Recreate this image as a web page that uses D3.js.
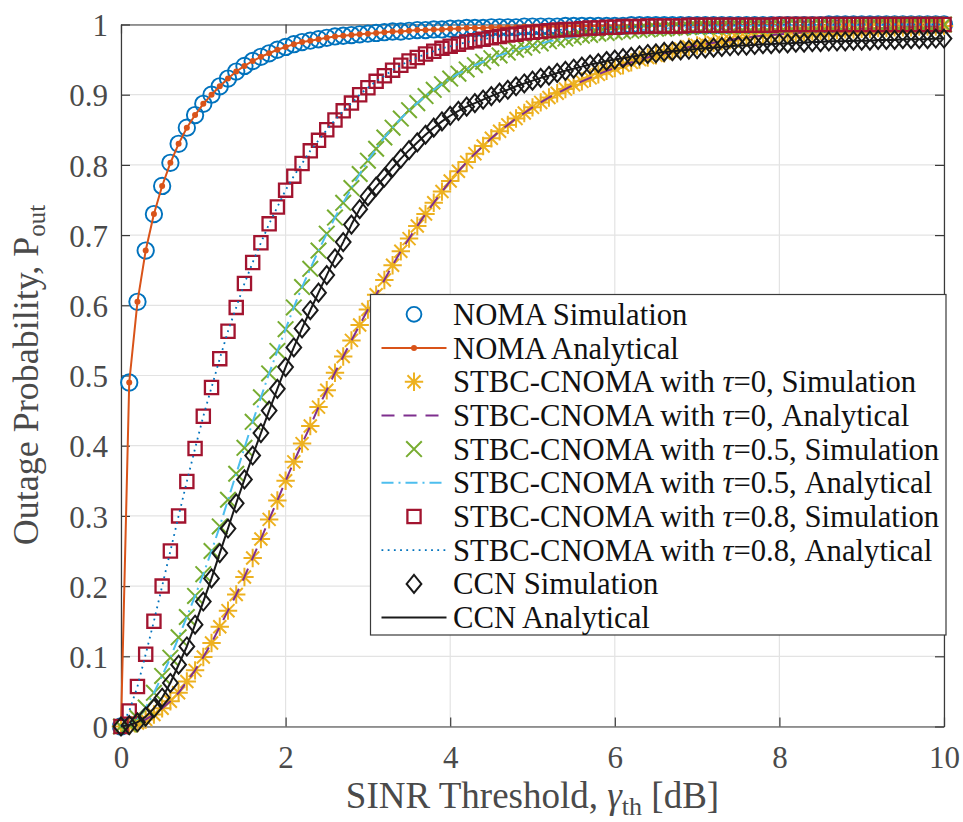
<!DOCTYPE html>
<html lang="en">
<head>
<meta charset="utf-8">
<title>Outage probability vs SINR threshold</title>
<script src="https://cdn.jsdelivr.net/npm/d3@7/dist/d3.min.js"></script>
<style>
  body { margin: 0; background: #fff; }
  svg { display: block; }
  text { font-family: "Liberation Serif", Tinos, "Times New Roman", Times, "Nimbus Roman", "DejaVu Serif"; }
</style>
</head>
<body>
<script>
// SINR threshold grid in dB (0 .. 10, step 0.1)
var sinrDb = d3.range(0, 101).map(function(i) { return i / 10; });

// outage probability values
var nomaOut = [
  0, 0.490, 0.605, 0.678, 0.730, 0.770, 0.803, 0.830, 0.853, 0.871,
  0.887, 0.900, 0.912, 0.923, 0.933, 0.941, 0.948, 0.954, 0.959, 0.964,
  0.968, 0.972, 0.975, 0.977, 0.979, 0.981, 0.983, 0.984, 0.985, 0.986,
  0.987, 0.988, 0.989, 0.990, 0.990, 0.991, 0.992, 0.992, 0.993, 0.993,
  0.994, 0.994, 0.995, 0.995, 0.995, 0.996, 0.996, 0.996, 0.996, 0.997,
  0.997, 0.997, 0.997, 0.997, 0.998, 0.998, 0.998, 0.998, 0.998, 0.998,
  0.998, 0.998, 0.999, 0.999, 0.999, 0.999, 0.999, 0.999, 0.999, 0.999,
  0.999, 0.999, 0.999, 0.999, 0.999, 0.999, 0.999, 0.999, 0.999, 0.999,
  0.999, 0.999, 0.999, 0.999, 0.999, 0.999, 1.000, 1.000, 1.000, 1.000,
  1.000, 1.000, 1.000, 1.000, 1.000, 1.000, 1.000, 1.000, 1.000, 1.000,
  1.000
];
var tau0Out = [
  0, 0.001, 0.005, 0.010, 0.017, 0.026, 0.036, 0.048, 0.064, 0.080,
  0.099, 0.119, 0.142, 0.165, 0.188, 0.213, 0.240, 0.267, 0.295, 0.322,
  0.350, 0.377, 0.403, 0.428, 0.455, 0.479, 0.504, 0.527, 0.550, 0.572,
  0.594, 0.615, 0.636, 0.657, 0.677, 0.695, 0.713, 0.730, 0.746, 0.762,
  0.777, 0.791, 0.804, 0.816, 0.827, 0.838, 0.848, 0.857, 0.866, 0.874,
  0.882, 0.889, 0.896, 0.902, 0.908, 0.914, 0.919, 0.924, 0.929, 0.934,
  0.938, 0.942, 0.946, 0.950, 0.953, 0.956, 0.959, 0.962, 0.965, 0.968,
  0.970, 0.972, 0.974, 0.976, 0.978, 0.980, 0.981, 0.983, 0.984, 0.985,
  0.986, 0.987, 0.988, 0.989, 0.990, 0.991, 0.991, 0.992, 0.993, 0.993,
  0.994, 0.994, 0.995, 0.995, 0.996, 0.996, 0.996, 0.997, 0.997, 0.997,
  0.998
];
var tau05Out = [
  0, 0.003, 0.012, 0.027, 0.048, 0.072, 0.098, 0.127, 0.156, 0.186,
  0.217, 0.250, 0.285, 0.323, 0.360, 0.397, 0.434, 0.469, 0.503, 0.535,
  0.566, 0.597, 0.626, 0.652, 0.678, 0.702, 0.725, 0.746, 0.767, 0.787,
  0.806, 0.823, 0.839, 0.853, 0.866, 0.878, 0.888, 0.898, 0.907, 0.915,
  0.923, 0.930, 0.936, 0.942, 0.947, 0.952, 0.956, 0.960, 0.964, 0.967,
  0.970, 0.973, 0.976, 0.978, 0.980, 0.982, 0.984, 0.985, 0.987, 0.988,
  0.989, 0.990, 0.991, 0.992, 0.993, 0.994, 0.994, 0.995, 0.995, 0.996,
  0.996, 0.997, 0.997, 0.997, 0.997, 0.998, 0.998, 0.998, 0.998, 0.998,
  0.998, 0.999, 0.999, 0.999, 0.999, 0.999, 0.999, 0.999, 0.999, 0.999,
  0.999, 0.999, 0.999, 1.000, 1.000, 1.000, 1.000, 1.000, 1.000, 1.000,
  1.000
];
var tau08Out = [
  0, 0.022, 0.057, 0.103, 0.150, 0.200, 0.250, 0.300, 0.349, 0.396,
  0.442, 0.483, 0.524, 0.563, 0.597, 0.631, 0.661, 0.689, 0.716, 0.740,
  0.764, 0.784, 0.802, 0.820, 0.835, 0.850, 0.864, 0.877, 0.888, 0.900,
  0.910, 0.919, 0.927, 0.935, 0.942, 0.948, 0.953, 0.958, 0.962, 0.966,
  0.969, 0.972, 0.975, 0.977, 0.979, 0.981, 0.983, 0.985, 0.986, 0.988,
  0.989, 0.990, 0.991, 0.992, 0.993, 0.993, 0.994, 0.995, 0.995, 0.996,
  0.996, 0.997, 0.997, 0.997, 0.998, 0.998, 0.998, 0.998, 0.998, 0.999,
  0.999, 0.999, 0.999, 0.999, 0.999, 0.999, 0.999, 0.999, 0.999, 0.999,
  1.000, 1.000, 1.000, 1.000, 1.000, 1.000, 1.000, 1.000, 1.000, 1.000,
  1.000, 1.000, 1.000, 1.000, 1.000, 1.000, 1.000, 1.000, 1.000, 1.000,
  1.000
];
var ccnOut = [
  0, 0.002, 0.006, 0.014, 0.026, 0.041, 0.062, 0.088, 0.114, 0.145,
  0.178, 0.211, 0.247, 0.282, 0.318, 0.352, 0.386, 0.418, 0.450, 0.481,
  0.512, 0.540, 0.567, 0.593, 0.618, 0.643, 0.667, 0.690, 0.715, 0.737,
  0.755, 0.769, 0.782, 0.796, 0.809, 0.821, 0.832, 0.843, 0.853, 0.862,
  0.870, 0.877, 0.883, 0.888, 0.893, 0.898, 0.903, 0.907, 0.912, 0.916,
  0.920, 0.924, 0.927, 0.931, 0.934, 0.937, 0.940, 0.943, 0.945, 0.948,
  0.950, 0.952, 0.954, 0.956, 0.958, 0.959, 0.961, 0.962, 0.963, 0.964,
  0.965, 0.966, 0.967, 0.968, 0.969, 0.970, 0.970, 0.971, 0.972, 0.972,
  0.973, 0.973, 0.974, 0.974, 0.975, 0.975, 0.976, 0.976, 0.976, 0.977,
  0.977, 0.977, 0.978, 0.978, 0.978, 0.979, 0.979, 0.979, 0.979, 0.980,
  0.980
];

var xTicks = [0, 2, 4, 6, 8, 10];
var xTickLabels = ["0", "2", "4", "6", "8", "10"];
var yTicks = [0, 0.1, 0.2, 0.3, 0.4, 0.5, 0.6, 0.7, 0.8, 0.9, 1];
var yTickLabels = ["0", "0.1", "0.2", "0.3", "0.4", "0.5", "0.6", "0.7", "0.8", "0.9", "1"];

var serifStack = "'Liberation Serif', Tinos, 'Times New Roman', Times, 'Nimbus Roman', 'DejaVu Serif'";

// marker shapes (size argument = half extent in px)
var symCircle = { draw: function(c, r) { c.moveTo(r, 0); c.arc(0, 0, r, 0, 2 * Math.PI); } };
var symSquare = { draw: function(c, r) { c.rect(-r, -r, 2 * r, 2 * r); } };
var symDiamond = { draw: function(c, r) {
  c.moveTo(0, -r); c.lineTo(r * 0.82, 0); c.lineTo(0, r); c.lineTo(-r * 0.82, 0); c.closePath();
} };
var symCross = { draw: function(c, r) {
  c.moveTo(-r, -r); c.lineTo(r, r); c.moveTo(-r, r); c.lineTo(r, -r);
} };
var symStar = { draw: function(c, r) {
  var d = r * 0.7071;
  c.moveTo(-r, 0); c.lineTo(r, 0); c.moveTo(0, -r); c.lineTo(0, r);
  c.moveTo(-d, -d); c.lineTo(d, d); c.moveTo(-d, d); c.lineTo(d, -d);
} };

// plot order = legend order
var series = [
  { label: ["NOMA Simulation"], values: nomaOut, color: "#0072BD", marker: symCircle, msize: 8.2, mwidth: 1.9 },
  { label: ["NOMA Analytical"], values: nomaOut, color: "#D95319", line: true, lwidth: 2, dash: null, dots: true },
  { label: ["STBC-CNOMA with ", "τ", "=0, Simulation"], values: tau0Out, color: "#EDB120", marker: symStar, msize: 9.2, mwidth: 2 },
  { label: ["STBC-CNOMA with ", "τ", "=0, Analytical"], values: tau0Out, color: "#7E2F8E", line: true, lwidth: 2, dash: "13,9" },
  { label: ["STBC-CNOMA with ", "τ", "=0.5, Simulation"], values: tau05Out, color: "#77AC30", marker: symCross, msize: 7.8, mwidth: 2 },
  { label: ["STBC-CNOMA with ", "τ", "=0.5, Analytical"], values: tau05Out, color: "#4DBEEE", line: true, lwidth: 2, dash: "12,5,2,5" },
  { label: ["STBC-CNOMA with ", "τ", "=0.8, Simulation"], values: tau08Out, color: "#A2142F", marker: symSquare, msize: 6.6, mwidth: 2.3 },
  { label: ["STBC-CNOMA with ", "τ", "=0.8, Analytical"], values: tau08Out, color: "#0072BD", line: true, lwidth: 1.8, dash: "1.8,4.4" },
  { label: ["CCN Simulation"], values: ccnOut, color: "#1a1a1a", marker: symDiamond, msize: 9, mwidth: 2 },
  { label: ["CCN Analytical"], values: ccnOut, color: "#1a1a1a", line: true, lwidth: 2, dash: null }
];

var width = 963, height = 822;
var x = d3.scaleLinear().domain([0, 10]).range([121, 944]);
var y = d3.scaleLinear().domain([0, 1]).range([726.5, 24.5]);

var svg = d3.select("body").append("svg")
  .attr("width", width)
  .attr("height", height);

svg.append("rect").attr("width", width).attr("height", height).attr("fill", "#fff");

// grid
var grid = svg.append("g").attr("class", "grid");
grid.selectAll("line.gx").data(xTicks).enter().append("line")
  .attr("x1", function(d) { return x(d); }).attr("x2", function(d) { return x(d); })
  .attr("y1", y(0)).attr("y2", y(1))
  .attr("stroke", "#e3e3e3").attr("stroke-width", 1.2);
grid.selectAll("line.gy").data(yTicks).enter().append("line")
  .attr("y1", function(d) { return y(d); }).attr("y2", function(d) { return y(d); })
  .attr("x1", x(0)).attr("x2", x(10))
  .attr("stroke", "#e3e3e3").attr("stroke-width", 1.2);

// axes (ticks pointing inward on all four sides)
var axisColor = "#3a3a3a";
function styleAxis(g) {
  g.select(".domain").attr("stroke", axisColor).attr("stroke-width", 1.2);
  g.selectAll(".tick line").attr("stroke", axisColor).attr("stroke-width", 1.2);
  g.selectAll(".tick text")
    .attr("fill", "#4a4a4a")
    .attr("font-family", serifStack)
    .attr("font-size", 31);
}

svg.append("g").attr("transform", "translate(0," + y(0) + ")")
  .call(d3.axisBottom(x).tickValues(xTicks).tickSizeInner(-9).tickSizeOuter(0).tickPadding(19.5)
    .tickFormat(function(d, i) { return xTickLabels[i]; }))
  .call(styleAxis);
svg.append("g").attr("transform", "translate(0," + y(1) + ")")
  .call(d3.axisTop(x).tickValues(xTicks).tickSizeInner(-9).tickSizeOuter(0).tickFormat(""))
  .call(styleAxis);
svg.append("g").attr("transform", "translate(" + x(0) + ",0)")
  .call(d3.axisLeft(y).tickValues(yTicks).tickSizeInner(-9).tickSizeOuter(0).tickPadding(13)
    .tickFormat(function(d, i) { return yTickLabels[i]; }))
  .call(styleAxis)
  .selectAll(".tick text").attr("dy", "0.36em");
svg.append("g").attr("transform", "translate(" + x(10) + ",0)")
  .call(d3.axisRight(y).tickValues(yTicks).tickSizeInner(-9).tickSizeOuter(0).tickFormat(""))
  .call(styleAxis);

// data
var lineGen = d3.line()
  .x(function(d, i) { return x(sinrDb[i]); })
  .y(function(d) { return y(d); });

var plot = svg.append("g").attr("class", "plot");
series.forEach(function(s) {
  var g = plot.append("g");
  if (s.line) {
    g.append("path")
      .attr("d", lineGen(s.values))
      .attr("fill", "none")
      .attr("stroke", s.color)
      .attr("stroke-width", s.lwidth)
      .attr("stroke-dasharray", s.dash)
      .attr("stroke-linejoin", "round");
    if (s.dots) {
      g.selectAll("circle").data(s.values).enter().append("circle")
        .attr("cx", function(d, i) { return x(sinrDb[i]); })
        .attr("cy", function(d) { return y(d); })
        .attr("r", 3)
        .attr("fill", s.color);
    }
  } else {
    var sym = d3.symbol().type(s.marker).size(s.msize);
    g.selectAll("path").data(s.values).enter().append("path")
      .attr("transform", function(d, i) { return "translate(" + x(sinrDb[i]) + "," + y(d) + ")"; })
      .attr("d", sym)
      .attr("fill", "none")
      .attr("stroke", s.color)
      .attr("stroke-width", s.mwidth);
  }
});

// legend
var legend = svg.append("g").attr("class", "legend");
legend.append("rect")
  .attr("x", 370.5).attr("y", 294.5)
  .attr("width", 575.5).attr("height", 340.5)
  .attr("fill", "#fff")
  .attr("stroke", "#3a3a3a").attr("stroke-width", 1.2);

var rowY = d3.scaleLinear().domain([0, 9]).range([314.3, 617.6]);
series.forEach(function(s, k) {
  var cy = rowY(k);
  var g = legend.append("g");
  if (s.line) {
    g.append("line")
      .attr("x1", 381.5).attr("x2", 446.5).attr("y1", cy).attr("y2", cy)
      .attr("stroke", s.color).attr("stroke-width", s.lwidth)
      .attr("stroke-dasharray", s.dash);
    if (s.dots) {
      g.append("circle").attr("cx", 414).attr("cy", cy).attr("r", 3).attr("fill", s.color);
    }
  } else {
    g.append("path")
      .attr("transform", "translate(414," + cy + ")")
      .attr("d", d3.symbol().type(s.marker).size(s.marker === symCircle ? 7.4 : s.msize)())
      .attr("fill", "none").attr("stroke", s.color).attr("stroke-width", s.mwidth);
  }
  var t = g.append("text")
    .attr("x", 453).attr("y", cy + 10.5)
    .attr("font-family", serifStack)
    .attr("font-size", 30.7).attr("fill", "#111");
  s.label.forEach(function(part) {
    var sp = t.append("tspan").text(part);
    if (part === "τ") sp.attr("font-style", "italic");
  });
});

// axis titles
var xl = svg.append("text")
  .attr("x", 532.5).attr("y", 808)
  .attr("text-anchor", "middle")
  .attr("font-family", serifStack)
  .attr("font-size", 37).attr("fill", "#4a4a4a");
xl.append("tspan").text("SINR Threshold, ");
xl.append("tspan").attr("font-style", "italic").text("γ");
xl.append("tspan").attr("font-size", 26).attr("dy", 7).text("th");
xl.append("tspan").attr("dy", -7).text(" [dB]");

var yl = svg.append("text")
  .attr("transform", "translate(38,375) rotate(-90)")
  .attr("text-anchor", "middle")
  .attr("font-family", serifStack)
  .attr("font-size", 36).attr("fill", "#4a4a4a");
yl.append("tspan").text("Outage Probability, P");
yl.append("tspan").attr("font-size", 25).attr("dy", 7).text("out");
</script>
</body>
</html>
